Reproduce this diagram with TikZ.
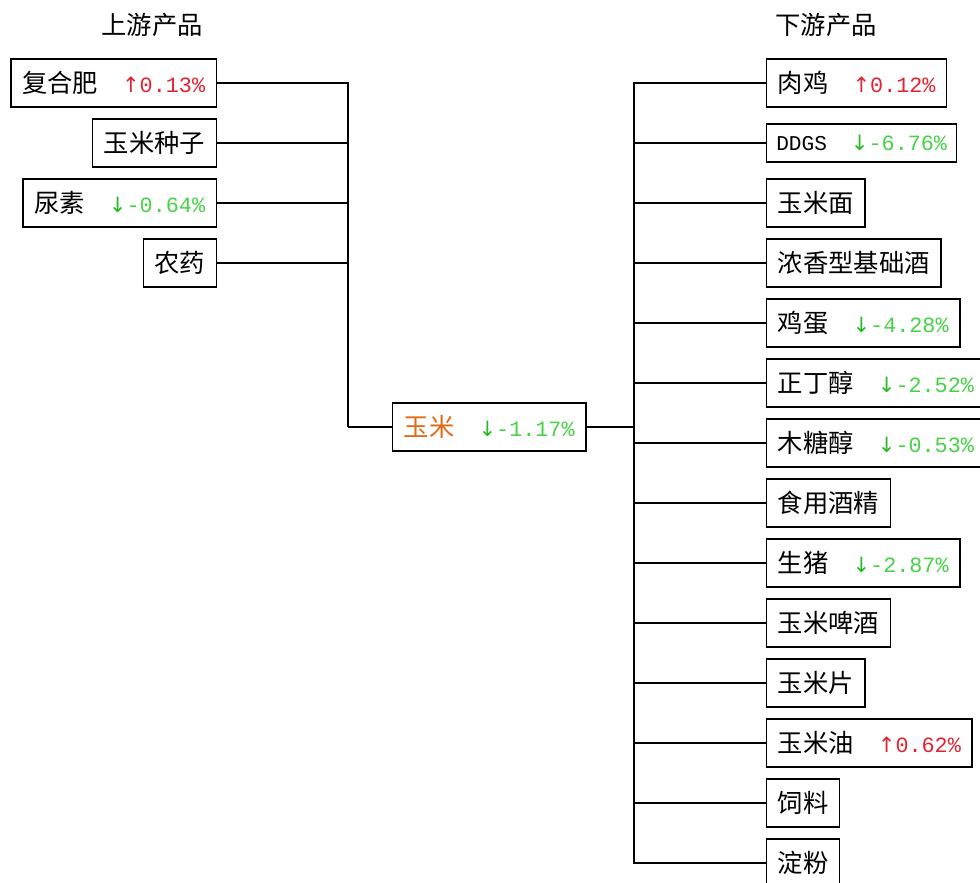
\documentclass[tikz,border=0pt]{standalone}
\usepackage{fontspec}
\newfontfamily\cjk{Noto Sans CJK SC}
\newfontfamily\arw{DejaVu Sans}
\newfontfamily\num{Liberation Mono}
\definecolor{upred}{RGB}{225,35,50}
\definecolor{dngreen}{RGB}{40,185,40}
\definecolor{numgreen}{RGB}{70,210,70}
\definecolor{cornorange}{RGB}{225,105,20}
\newcommand\up[1]{\hspace{6mm}{\color{upred}\arw\fontsize{15}{16}\selectfont ↑}{\color{upred}\num\fontsize{15.5}{16}\selectfont #1}}
\newcommand\dn[1]{\hspace{6mm}{\color{dngreen}\arw\fontsize{15}{16}\selectfont ↓}{\color{numgreen}\num\fontsize{15.5}{16}\selectfont #1}}
\tikzset{
  prod/.style={draw,line width=1pt,inner xsep=2.8mm,inner ysep=0pt,minimum height=12mm,font=\cjk\fontsize{18}{20}\selectfont},
  link/.style={line width=1pt},
  title/.style={font=\cjk\fontsize{18}{20}\selectfont}
}

\begin{document}
\begin{tikzpicture}[x=0.25mm,y=-0.25mm]
\useasboundingbox (0,0) rectangle (980,883);

\path (152,25) node[title] (upt) {上游产品};
\path (826,25) node[title] (dnt) {下游产品};

% upstream
\path (217,83) node[prod,anchor=east] (fhf) {复合肥\up{0.13\%}};
\path (217,143) node[prod,anchor=east] (ymzz) {玉米种子};
\path (217,203) node[prod,anchor=east] (ns) {尿素\dn{-0.64\%}};
\path (217,263) node[prod,anchor=east] (ny) {农药};

% corn
\path (392,427) node[prod,anchor=west] (ym) {{\color{cornorange}玉米}\dn{-1.17\%}};

% downstream
\path (766,83) node[prod,anchor=west] (rj) {肉鸡\up{0.12\%}};
\path (766,143) node[prod,anchor=west,minimum height=9.5mm,inner xsep=2.4mm] (ddgs) {{\num\fontsize{15}{16}\selectfont DDGS}\dn{-6.76\%}};
\path (766,203) node[prod,anchor=west] (ymm) {玉米面};
\path (766,263) node[prod,anchor=west] (nxj) {浓香型基础酒};
\path (766,323) node[prod,anchor=west] (jd) {鸡蛋\dn{-4.28\%}};
\path (766,383) node[prod,anchor=west] (zdc) {正丁醇\dn{-2.52\%}};
\path (766,443) node[prod,anchor=west] (mtc) {木糖醇\dn{-0.53\%}};
\path (766,503) node[prod,anchor=west] (syjj) {食用酒精};
\path (766,563) node[prod,anchor=west] (sz) {生猪\dn{-2.87\%}};
\path (766,623) node[prod,anchor=west] (ympj) {玉米啤酒};
\path (766,683) node[prod,anchor=west] (ymp) {玉米片};
\path (766,743) node[prod,anchor=west] (ymy) {玉米油\up{0.62\%}};
\path (766,803) node[prod,anchor=west] (sl) {饲料};
\path (766,863) node[prod,anchor=west] (df) {淀粉};

\coordinate (lbus) at (348,427);
\coordinate (rbus) at (634,427);

\draw[link] (fhf.east) -| (lbus);
\draw[link] (ymzz.east) -| (lbus);
\draw[link] (ns.east) -| (lbus);
\draw[link] (ny.east) -| (lbus);
\draw[link] (lbus) -- (ym.west);
\draw[link] (ym.east) -- (rbus);

\draw[link] (rbus) |- (rj.west);
\draw[link] (rbus) |- (ddgs.west);
\draw[link] (rbus) |- (ymm.west);
\draw[link] (rbus) |- (nxj.west);
\draw[link] (rbus) |- (jd.west);
\draw[link] (rbus) |- (zdc.west);
\draw[link] (rbus) |- (mtc.west);
\draw[link] (rbus) |- (syjj.west);
\draw[link] (rbus) |- (sz.west);
\draw[link] (rbus) |- (ympj.west);
\draw[link] (rbus) |- (ymp.west);
\draw[link] (rbus) |- (ymy.west);
\draw[link] (rbus) |- (sl.west);
\draw[link] (rbus) |- (df.west);
\end{tikzpicture}
\end{document}
